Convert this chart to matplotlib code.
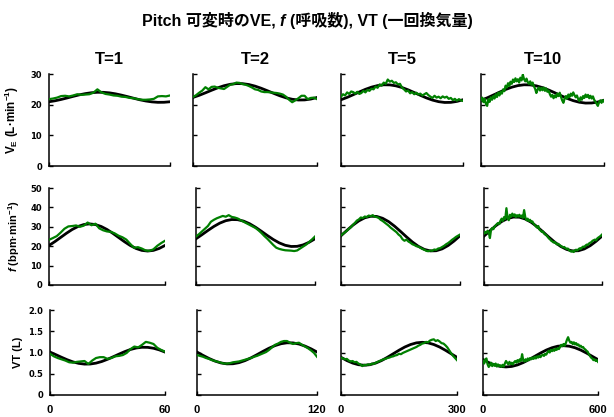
import numpy as np
import matplotlib
matplotlib.use('Agg')
import matplotlib.pyplot as plt

# 4 conditions (T=1,2,5,10 -> 60,120,300,600 s)
col_titles = ['T=1', 'T=2', 'T=5', 'T=10']
durations = [60, 120, 300, 600]
row_labels = ['V$_\\mathregular{E}$ (L·min$^{-1}$)', '$\\mathit{f}$ (bpm·min$^{-1}$)', 'VT (L)']
y_limits = [30, 50, 2.0]
y_ticks = [[0, 10, 20, 30], [0, 10, 20, 30, 40, 50], [0, 0.5, 1.0, 1.5, 2.0]]
y_ticklabels = [['0', '10', '20', '30'], ['0', '10', '20', '30', '40', '50'],
                ['0', '0.5', '1.0', '1.5', '2.0']]

# --- measured (green) ---
ve_t1 = [21.8, 22.0, 22.3, 22.8, 22.9, 22.7, 23.0, 23.4, 23.2, 23.3, 23.4, 23.9, 25.0, 24.0, 23.5, 23.3,
         23.0, 22.9, 22.6, 22.5, 22.2, 22.1, 21.8, 21.6, 21.6, 21.7, 21.9, 22.7, 22.8, 22.7, 23.0]
f_t1 = [23.3, 24.2, 25.2, 27.0, 29.0, 30.2, 30.4, 30.7, 30.0, 30.6, 32.2, 30.8, 31.6, 29.2, 28.2, 27.6,
        27.4, 26.6, 25.4, 24.6, 23.4, 21.2, 19.2, 19.5, 18.8, 17.8, 17.6, 18.4, 20.2, 21.6, 22.8]
vt_t1 = [0.97, 0.91, 0.87, 0.84, 0.81, 0.77, 0.76, 0.78, 0.79, 0.80, 0.73, 0.81, 0.87, 0.89, 0.89, 0.85,
         0.87, 0.91, 0.92, 0.94, 0.99, 1.08, 1.14, 1.12, 1.18, 1.25, 1.23, 1.20, 1.11, 1.06, 1.02]

ve_t2 = [22.5, 23.1, 23.9, 24.6, 25.7, 25.0, 25.8, 25.9, 25.5, 25.3, 25.1, 25.8, 26.5, 26.7, 27.2, 27.1,
         26.7, 26.5, 26.1, 25.6, 25.0, 24.8, 24.3, 24.1, 24.1, 24.0, 23.9, 23.8, 23.6, 23.3, 22.6, 21.6,
         20.8, 21.4, 22.1, 22.9, 22.9, 21.8, 22.2, 22.3, 21.8]
f_t2 = [25.0, 26.2, 27.6, 29.0, 30.4, 32.6, 33.6, 34.4, 35.0, 35.6, 35.2, 36.0, 35.1, 34.8, 34.3, 33.4,
        32.6, 31.8, 31.0, 30.2, 29.4, 28.2, 26.8, 25.2, 23.8, 22.2, 20.6, 19.2, 18.6, 18.2, 17.9, 17.8,
        17.7, 17.5, 17.8, 18.8, 19.8, 20.8, 22.1, 23.5, 25.0]
vt_t2 = [0.94, 0.92, 0.90, 0.87, 0.85, 0.82, 0.80, 0.78, 0.76, 0.74, 0.74, 0.75, 0.77, 0.78, 0.79, 0.81,
         0.83, 0.85, 0.87, 0.90, 0.92, 0.95, 0.98, 1.01, 1.06, 1.12, 1.18, 1.21, 1.25, 1.27, 1.27, 1.23,
         1.20, 1.22, 1.23, 1.18, 1.14, 1.10, 1.05, 0.99, 0.90]

ve_t5 = [22.6, 23.4, 23.0, 24.0, 23.5, 24.3, 24.1, 23.6, 24.2, 23.5, 23.8, 24.5, 24.0, 24.8, 24.5, 25.2,
         25.0, 25.9, 25.5, 26.6, 26.2, 27.2, 26.8, 28.2, 27.5, 27.8, 27.1, 27.3, 26.6, 26.8, 25.6, 25.0,
         24.3, 24.6, 23.7, 24.1, 23.4, 23.9, 23.3, 23.6, 23.0, 23.4, 23.8, 23.1, 22.6, 22.2, 22.9, 22.3,
         22.6, 22.1, 22.7, 22.3, 22.6, 21.9, 22.2, 21.5, 21.9, 21.3, 21.8, 21.4, 21.2]
f_t5 = [25.6, 26.4, 27.2, 28.0, 29.0, 29.8, 31.0, 32.0, 33.2, 33.8, 34.8, 34.5, 35.3, 35.0, 35.8, 35.4,
        36.0, 35.2, 35.0, 34.6, 33.6, 33.0, 32.2, 31.4, 30.6, 29.6, 28.8, 28.0, 27.2, 26.0, 25.2, 23.6,
        22.8, 23.4, 22.4, 21.8, 21.0, 20.6, 20.0, 19.8, 19.2, 18.6, 18.2, 17.6, 17.4, 17.8, 17.6, 18.3,
        18.1, 18.8, 19.0, 19.6, 20.2, 21.0, 21.6, 22.4, 23.3, 24.0, 24.8, 25.4, 26.0]
vt_t5 = [0.88, 0.86, 0.84, 0.85, 0.81, 0.79, 0.80, 0.77, 0.78, 0.74, 0.72, 0.68, 0.71, 0.70, 0.72, 0.71,
         0.74, 0.73, 0.76, 0.78, 0.80, 0.82, 0.84, 0.85, 0.87, 0.88, 0.90, 0.91, 0.93, 0.94, 0.97, 0.96,
         0.99, 1.01, 1.03, 1.05, 1.07, 1.09, 1.11, 1.13, 1.16, 1.18, 1.21, 1.22, 1.25, 1.24, 1.28, 1.30,
         1.31, 1.27, 1.29, 1.26, 1.22, 1.21, 1.17, 1.12, 1.05, 0.98, 0.92, 0.87, 0.82]

ve_t10 = [21.5, 22.3, 20.8, 21.9, 20.2, 19.6, 21.8, 20.9, 22.4, 21.6, 22.8, 22.0, 23.4, 22.5, 23.9, 23.0,
          24.2, 23.6, 25.0, 24.4, 26.2, 25.6, 27.0, 26.1, 27.5, 26.8, 28.2, 27.4, 28.6, 27.6, 28.3, 27.2,
          28.8, 27.9, 29.8, 28.3, 27.6, 28.5, 27.3, 26.8, 27.6, 26.5, 27.2, 26.0, 25.2, 23.8, 24.9, 25.6,
          24.6, 25.5, 24.7, 25.6, 24.5, 25.3, 24.2, 24.6, 23.4, 22.6, 23.2, 22.1, 23.0, 22.4, 23.6, 22.8,
          23.9, 22.6, 21.4, 20.6, 22.0, 22.8, 22.0, 23.3, 22.5, 23.6, 22.9, 24.0, 23.1, 22.4, 23.0, 21.8,
          21.2, 22.4, 21.6, 22.8, 22.2, 23.3, 22.5, 23.2, 22.1, 22.9, 22.0, 22.7, 21.6, 21.0, 20.3, 19.6,
          20.8, 21.4, 20.6, 21.5, 21.0]
f_t10 = [26.5, 27.4, 26.8, 28.0, 27.2, 24.2, 28.6, 29.4, 28.8, 30.2, 30.8, 31.5, 32.0, 31.4, 33.2, 34.2,
         33.0, 35.0, 34.0, 39.6, 34.6, 33.4, 36.2, 35.2, 36.8, 35.6, 36.4, 35.0, 36.0, 35.3, 36.2, 35.1,
         35.8, 34.6, 38.6, 34.9, 33.4, 34.2, 33.0, 33.6, 32.4, 32.8, 31.6, 31.0, 30.2, 29.6, 30.4, 28.6,
         28.0, 27.4, 27.6, 26.5, 26.0, 25.6, 24.8, 24.0, 23.5, 22.8, 22.4, 21.9, 22.2, 21.4, 20.9, 21.2,
         20.6, 20.2, 19.8, 19.4, 19.6, 19.0, 18.6, 18.8, 18.0, 17.5, 17.2, 17.6, 17.0, 17.8, 18.2, 17.8,
         18.4, 18.9, 18.6, 19.3, 19.8, 19.5, 20.3, 20.8, 20.6, 21.4, 21.8, 22.1, 22.8, 23.1, 23.4, 23.0,
         24.0, 24.5, 24.9, 25.4, 26.0]
vt_t10 = [0.80, 0.74, 0.84, 0.86, 0.72, 0.66, 0.70, 0.76, 0.68, 0.73, 0.69, 0.74, 0.67, 0.72, 0.68, 0.70,
          0.66, 0.71, 0.67, 0.74, 0.80, 0.76, 0.72, 0.78, 0.73, 0.76, 0.72, 0.77, 0.80, 0.76, 0.82, 0.78,
          0.84, 0.80, 0.96, 0.82, 0.79, 0.84, 0.80, 0.86, 0.82, 0.87, 0.84, 0.88, 0.85, 0.90, 0.86, 0.91,
          0.88, 0.92, 0.89, 0.93, 0.95, 0.92, 0.97, 0.95, 1.00, 1.04, 1.00, 1.06, 1.03, 1.07, 1.04, 1.09,
          1.06, 1.10, 1.08, 1.13, 1.18, 1.15, 1.20, 1.16, 1.22, 1.30, 1.36, 1.28, 1.23, 1.25, 1.20, 1.24,
          1.19, 1.22, 1.17, 1.19, 1.14, 1.16, 1.12, 1.13, 1.09, 1.07, 1.04, 1.02, 0.96, 0.92, 0.88, 0.86,
          0.82, 0.84, 0.80, 0.82, 0.78]

# --- fitted curve (black) ---
ve_t1_fit = [20.95, 21.27, 21.70, 22.19, 22.71, 23.20, 23.60, 23.89, 24.04, 24.02, 23.85, 23.53, 23.10,
             22.61, 22.09, 21.60, 21.20, 20.91, 20.76, 20.78, 20.95]
ve_t2_fit = [22.35, 23.05, 23.86, 24.70, 25.50, 26.17, 26.64, 26.88, 26.85, 26.57, 26.05, 25.35, 24.54,
             23.70, 22.90, 22.23, 21.76, 21.52, 21.55, 21.83, 22.35]
ve_t5_fit = [21.61, 22.36, 23.24, 24.14, 25.00, 25.71, 26.22, 26.48, 26.45, 26.14, 25.59, 24.84, 23.96,
             23.06, 22.20, 21.49, 20.98, 20.72, 20.75, 21.06, 21.61]
ve_t10_fit = [21.45, 22.22, 23.13, 24.06, 24.95, 25.69, 26.22, 26.48, 26.45, 26.13, 25.56, 24.78, 23.88,
              22.94, 22.05, 21.31, 20.79, 20.52, 20.55, 20.87, 21.45]
f_t1_fit = [20.38, 22.34, 24.50, 26.66, 28.62, 30.16, 31.16, 31.50, 31.16, 30.16, 28.62, 26.66, 24.50,
            22.34, 20.38, 18.84, 17.84, 17.50, 17.84, 18.84, 20.38]
f_t2_fit = [23.82, 25.93, 28.11, 30.17, 31.90, 33.14, 33.74, 33.67, 32.93, 31.60, 29.78, 27.68, 25.49,
            23.43, 21.70, 20.47, 19.86, 19.93, 20.67, 22.01, 23.82]
f_t5_fit = [25.38, 28.18, 30.84, 33.06, 34.65, 35.43, 35.34, 34.38, 32.67, 30.33, 27.63, 24.82, 22.16,
            19.94, 18.36, 17.57, 17.66, 18.62, 20.34, 22.67, 25.38]
f_t10_fit = [25.20, 27.95, 30.54, 32.72, 34.26, 35.03, 34.94, 34.01, 32.33, 30.05, 27.40, 24.65, 22.06,
             19.88, 18.34, 17.57, 17.66, 18.59, 20.27, 22.55, 25.20]
vt_t1_fit = [1.010, 0.950, 0.888, 0.829, 0.779, 0.744, 0.727, 0.729, 0.750, 0.788, 0.840, 0.900, 0.962,
             1.021, 1.071, 1.106, 1.123, 1.121, 1.100, 1.062, 1.010]
vt_t2_fit = [1.011, 0.933, 0.860, 0.798, 0.754, 0.732, 0.735, 0.761, 0.809, 0.874, 0.949, 1.027, 1.101,
             1.162, 1.206, 1.228, 1.226, 1.199, 1.151, 1.087, 1.011]
vt_t5_fit = [0.887, 0.811, 0.752, 0.713, 0.700, 0.713, 0.752, 0.811, 0.887, 0.970, 1.053, 1.129, 1.188,
             1.227, 1.240, 1.227, 1.188, 1.129, 1.053, 0.970, 0.887]
vt_t10_fit = [0.833, 0.763, 0.708, 0.672, 0.660, 0.672, 0.708, 0.763, 0.833, 0.910, 0.987, 1.057, 1.112,
              1.148, 1.160, 1.148, 1.112, 1.057, 0.987, 0.910, 0.833]

measured = [[ve_t1, ve_t2, ve_t5, ve_t10],
            [f_t1, f_t2, f_t5, f_t10],
            [vt_t1, vt_t2, vt_t5, vt_t10]]
fitted = [[ve_t1_fit, ve_t2_fit, ve_t5_fit, ve_t10_fit],
          [f_t1_fit, f_t2_fit, f_t5_fit, f_t10_fit],
          [vt_t1_fit, vt_t2_fit, vt_t5_fit, vt_t10_fit]]

# fonts (bold arial-like + japanese fallback)
plt.rcParams['font.family'] = ['Liberation Sans', 'Noto Sans CJK JP']
plt.rcParams['font.weight'] = 'bold'
plt.rcParams['mathtext.fontset'] = 'custom'
plt.rcParams['mathtext.rm'] = 'Liberation Sans:bold'
plt.rcParams['mathtext.it'] = 'Liberation Sans:italic:bold'
plt.rcParams['mathtext.bf'] = 'Liberation Sans:bold'
plt.rcParams['mathtext.default'] = 'rm'

W, H, DPI = 614, 417, 100
fig = plt.figure(figsize=(W / DPI, H / DPI), dpi=DPI)

# axes boxes in pixels (per row, the panels are not perfectly aligned)
box_left = [[49, 193, 341, 481], [49, 196, 341, 484], [50, 197, 341, 483]]
box_right = [[170, 317, 463, 604], [165, 315, 460, 602], [165, 317, 457, 598]]
row_top = [74, 188, 310]
row_bottom = [166, 285, 395]

for r in range(3):
    for c in range(4):
        x0 = box_left[r][c] / W
        w = (box_right[r][c] - box_left[r][c]) / W
        y0 = 1 - row_bottom[r] / H
        h = (row_bottom[r] - row_top[r]) / H
        ax = fig.add_axes([x0, y0, w, h])

        dur = durations[c]
        fit = fitted[r][c]
        mea = measured[r][c]
        ax.plot(np.linspace(0, dur, len(fit)), fit, color='black', lw=2.0, zorder=2)
        ax.plot(np.linspace(0, dur, len(mea)), mea, color='#008000', lw=1.6, zorder=3)

        ax.set_xlim(0, dur)
        ax.set_ylim(0, y_limits[r])
        ax.spines['top'].set_visible(False)
        ax.spines['right'].set_visible(False)
        ax.spines['left'].set_linewidth(1.1)
        ax.spines['bottom'].set_linewidth(1.1)
        ax.tick_params(direction='in', length=3, width=1)

        ax.set_xticks([0, dur])
        if r == 2:
            ax.set_xticklabels(['0', str(dur)], fontsize=8, fontweight='bold')
            ax.tick_params(axis='x', pad=7.5)
        else:
            ax.set_xticklabels([])

        ax.set_yticks(y_ticks[r])
        if c == 0:
            # y tick labels are wide and short in the original -> DejaVu bold, small
            ax.set_yticklabels(y_ticklabels[r], fontsize=6, fontweight='bold', family='DejaVu Sans')
            ax.tick_params(axis='y', pad=5)
            ax.set_ylabel(row_labels[r], fontsize=8.5 if r == 0 else 8, fontweight='bold')
            ax.yaxis.set_label_coords(-0.235, 0.5)
        else:
            ax.set_yticklabels([])

        if r == 0:
            ax.set_title(col_titles[c], fontsize=12, fontweight='bold', pad=7)

# suptitle built from pieces so the "f" can be italic
renderer = fig.canvas.get_renderer()
title_size = 11.5
pieces = [('Pitch 可変時のVE,', 'normal'), ('f', 'italic'), ('(呼吸数), VT (一回換気量)', 'normal')]
texts = []
for s, style in pieces:
    t = fig.text(0, 0, s, fontsize=title_size, fontweight='bold', style=style, va='baseline')
    texts.append(t)
widths = [t.get_window_extent(renderer).width for t in texts]
gap = 0.278 * title_size * DPI / 72
total = sum(widths) + gap * (len(widths) - 1)
x = W / 2 - total / 2
for t, wd in zip(texts, widths):
    t.set_position((x / W, 1 - 26 / H))
    x += wd + gap

plt.savefig('out.png', dpi=DPI)
plt.close()
